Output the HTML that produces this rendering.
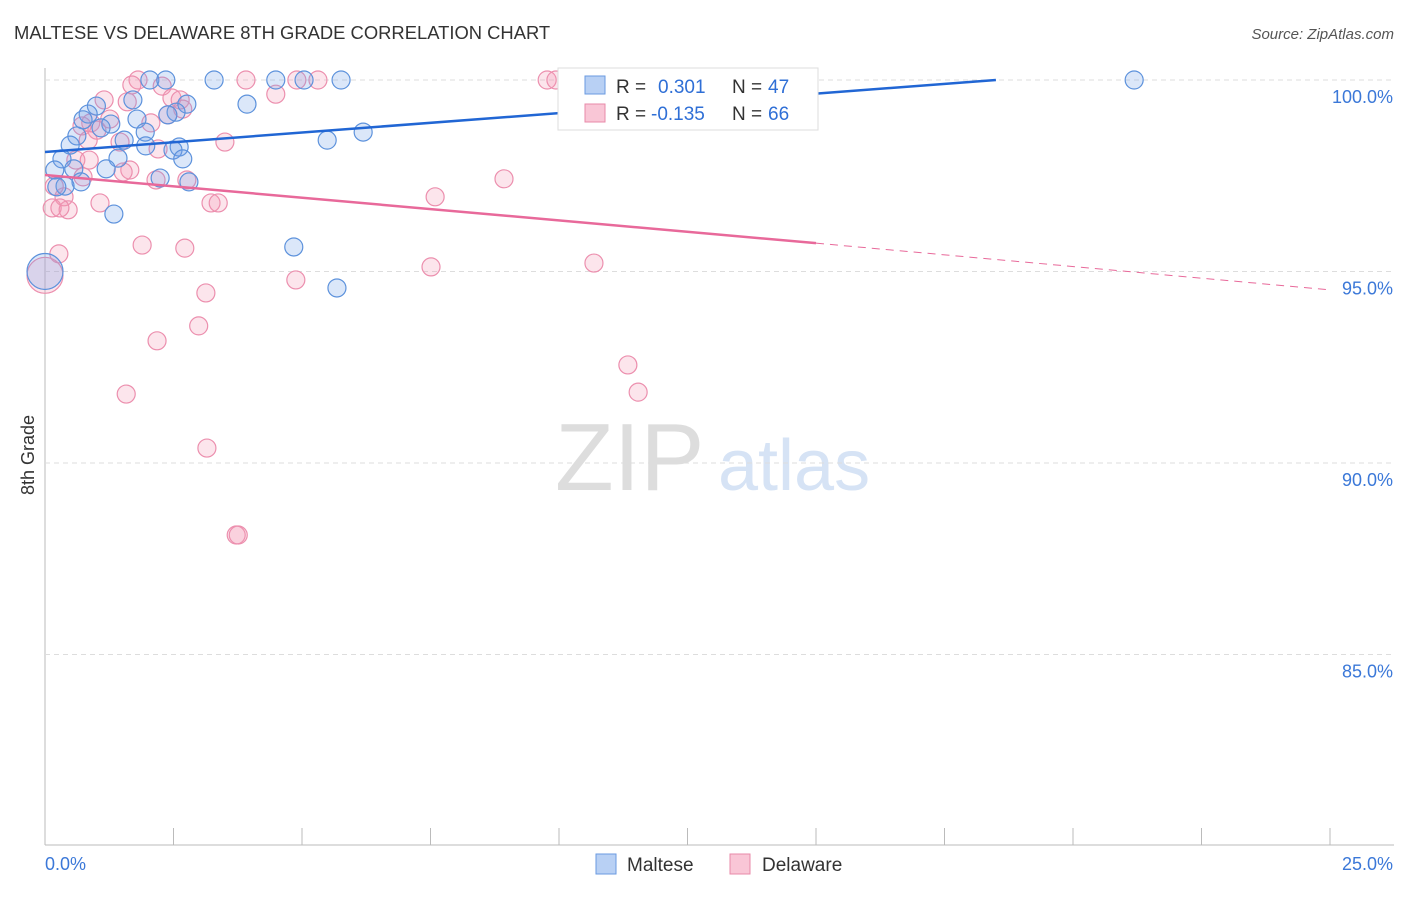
<!DOCTYPE html>
<html><head><meta charset="utf-8"><style>
body{margin:0;background:#fff;font-family:"Liberation Sans",sans-serif}
svg text{font-family:"Liberation Sans",sans-serif}
</style></head><body>
<svg id="c" width="1406" height="892">
<text x="14" y="39" font-size="18.4" fill="#333">MALTESE VS DELAWARE 8TH GRADE CORRELATION CHART</text>
<text x="1394" y="39" font-size="15" fill="#555" text-anchor="end" font-style="italic">Source: ZipAtlas.com</text>
<text x="555" y="490" font-size="96" fill="#ddd" font-family="Liberation Serif">ZIP</text>
<text x="718" y="490" font-size="72" fill="#d6e3f5">atlas</text>
<text x="34" y="455" font-size="18" fill="#333" transform="rotate(-90 34 455)" text-anchor="middle">8th Grade</text>
<g id="grid"></g><g id="pts"></g><g id="lines"></g>
<g>
<rect x="558" y="68" width="260" height="62" fill="#fff" stroke="#ddd"/>
<rect x="585" y="76" width="20" height="18" fill="#b8d0f4" stroke="#6a9ae0"/>
<rect x="585" y="104" width="20" height="18" fill="#f9c6d6" stroke="#e88aa8"/>
<text x="616" y="93" font-size="19" fill="#333">R =</text>
<text x="658" y="93" font-size="19" fill="#2f6fd6">0.301</text>
<text x="732" y="93" font-size="19" fill="#333">N =</text>
<text x="768" y="93" font-size="19" fill="#2f6fd6">47</text>
<text x="616" y="120" font-size="19" fill="#333">R =</text>
<text x="651" y="120" font-size="19" fill="#2f6fd6">-0.135</text>
<text x="732" y="120" font-size="19" fill="#333">N =</text>
<text x="768" y="120" font-size="19" fill="#2f6fd6">66</text>
</g>
<g>
<rect x="596" y="854" width="20" height="20" fill="#b8d0f4" stroke="#6a9ae0"/>
<text x="627" y="871" font-size="19" fill="#333">Maltese</text>
<rect x="730" y="854" width="20" height="20" fill="#f9c6d6" stroke="#e88aa8"/>
<text x="762" y="871" font-size="19" fill="#333">Delaware</text>
</g>
</svg>
<script>
const xTicks=[0,2.5,5,7.5,10,12.5,15,17.5,20,22.5,25];
const yTicks=[100,95,90,85];
const yTickLabels=["100.0%","95.0%","90.0%","85.0%"];
const maltX=[2.04,2.35,3.29,4.49,5.04,5.76,21.19,3.93,1.71,1.0,2.76,2.55,2.39,0.84,0.74,1.79,1.28,1.09,0.62,1.95,6.19,5.49,1.54,0.49,1.96,2.61,2.49,0.33,1.42,2.68,1.19,0.56,0.19,2.24,0.7,2.8,0.39,0.23,1.34,4.84,5.68,0];
const maltY=[100,100,100,100,100,100,100,99.37,99.48,99.32,99.37,99.16,99.09,99.11,98.96,98.98,98.85,98.75,98.54,98.64,98.64,98.43,98.43,98.3,98.28,98.25,98.17,97.94,97.96,97.94,97.68,97.68,97.65,97.44,97.34,97.34,97.23,97.21,96.5,95.64,94.57,95.0];
const maltR=[9,9,9,9,9,9,9,9,9,9,9,9,9,9,9,9,9,9,9,9,9,9,9,9,9,9,9,9,9,9,9,9,9,9,9,9,9,9,9,9,9,18];
const delX=[1.81,3.91,4.9,5.31,9.77,9.94,1.69,2.28,4.49,1.15,1.6,2.47,2.63,2.68,2.39,2.06,1.26,0.89,1.01,0.72,1.46,3.5,0.84,0.6,2.2,0.86,1.65,1.52,0.74,2.16,2.76,8.93,7.59,3.23,3.37,1.07,0.37,0.14,0.45,0.29,0.18,0.27,1.89,2.72,7.51,10.68,4.88,3.13,2.99,2.18,11.34,11.54,1.58,3.15,3.72,3.76,0];
const delY=[100,100,100,100,100,100,99.87,99.84,99.63,99.48,99.43,99.53,99.48,99.24,99.09,98.88,98.98,98.88,98.69,98.8,98.38,98.38,98.43,97.91,98.2,97.91,97.65,97.6,97.47,97.39,97.39,97.42,96.95,96.79,96.79,96.79,96.95,96.66,96.61,96.66,97.23,95.46,95.69,95.61,95.12,95.22,94.78,94.44,93.58,93.19,92.56,91.85,91.8,90.39,88.12,88.12,94.9];
const delR=[9,9,9,9,9,9,9,9,9,9,9,9,9,9,9,9,9,9,9,9,9,9,9,9,9,9,9,9,9,9,9,9,9,9,9,9,9,9,9,9,9,9,9,9,9,9,9,9,9,9,9,9,9,9,9,9,18];
const maltLine=[0,98.12,18.5,100,25,100];
const delLine=[0,97.52,15,95.74,25,94.52];
const X=v=>45+v*51.4, Y=v=>80+(100-v)*38.3;
const NS="http://www.w3.org/2000/svg";
function mk(p,t,a){const e=document.createElementNS(NS,t);for(const k in a)e.setAttribute(k,a[k]);p.appendChild(e);return e;}
const g=document.getElementById('grid');
const ax=mk(g,'line',{x1:45,y1:68,x2:45,y2:845,stroke:'#bbb'});


const bx=mk(g,'line',{x1:45,y1:845,x2:1394,y2:845,stroke:'#bbb'});


yTicks.forEach((t,i)=>{
 const l=mk(g,'line',{x1:45,x2:1394,y1:Y(t),y2:Y(t),stroke:'#ddd','stroke-dasharray':'5,4'});
 
 
 const tx=mk(g,'text',{x:1393,y:Y(t)+23,'font-size':18,fill:'#3b78d8','text-anchor':'end'});
 tx.textContent=yTickLabels[i];
 
 
});
xTicks.forEach(t=>{
 const l=mk(g,'line',{x1:X(t),x2:X(t),y1:828,y2:845,stroke:'#bbb'});
 
 
});
const t0=mk(g,'text',{x:45,y:870,'font-size':18,fill:'#3b78d8'});t0.textContent='0.0%';


const t1=mk(g,'text',{x:1393,y:870,'font-size':18,fill:'#3b78d8','text-anchor':'end'});t1.textContent='25.0%';


const p=document.getElementById('pts');
delX.forEach((x,i)=>{const c=mk(p,'circle',{cx:X(x),cy:Y(delY[i]),r:delR[i],fill:'rgba(244,150,180,0.25)',stroke:'#ec8fae','stroke-width':1.2});
 
 });
maltX.forEach((x,i)=>{const c=mk(p,'circle',{cx:X(x),cy:Y(maltY[i]),r:maltR[i],fill:'rgba(110,160,230,0.25)',stroke:'#5d92dc','stroke-width':1.2});
 
 });
const L=document.getElementById('lines');
let e=mk(L,'line',{x1:X(maltLine[0]),y1:Y(maltLine[1]),x2:X(maltLine[2]),y2:Y(maltLine[3]),stroke:'#2166d4','stroke-width':2.5});


e=mk(L,'line',{x1:X(delLine[0]),y1:Y(delLine[1]),x2:X(delLine[2]),y2:Y(delLine[3]),stroke:'#e8699a','stroke-width':2.5});


e=mk(L,'line',{x1:X(delLine[2]),y1:Y(delLine[3]),x2:X(delLine[4]),y2:Y(delLine[5]),stroke:'#e8699a','stroke-width':1,'stroke-dasharray':'8,6'});


</script>
</body></html>
